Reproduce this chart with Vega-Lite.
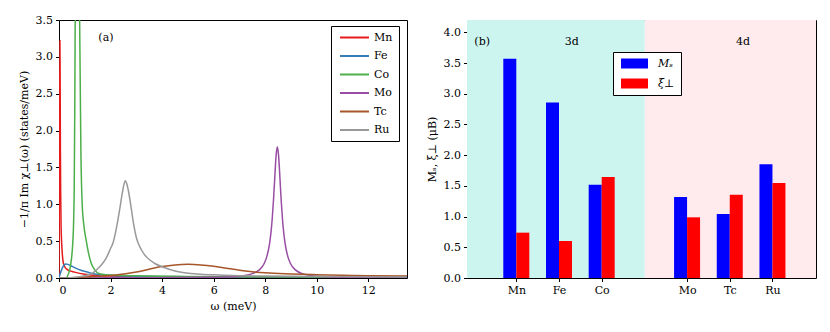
{
  "$schema": "https://vega.github.io/schema/vega-lite/v6.json",
  "padding": {"left": 17, "top": 13, "right": 0, "bottom": 0},
  "spacing": 17,
  "resolve": {"scale": {"color": "independent"}, "legend": {"color": "independent"}},
  "config": {
    "font": "DejaVu Serif",
    "view": {"stroke": "black", "strokeWidth": 1},
    "axis": {
      "grid": false, "domain": false, "tickColor": "black", "tickSize": 3.5, "labelOverlap": false,
      "labelFont": "DejaVu Serif", "labelFontSize": 11, "labelColor": "black", "labelPadding": 3,
      "titleFont": "DejaVu Serif", "titleFontSize": 11, "titleFontWeight": "normal", "titleColor": "black", "zindex": 1
    },
    "legend": {
      "labelFont": "DejaVu Serif", "labelFontSize": 11, "labelColor": "black",
      "strokeColor": "black", "fillColor": "white", "cornerRadius": 0
    }
  },
  "datasets": {
    "chi": [
      {"s":"Mn","w":0,"v":0},{"s":"Mn","w":0.02,"v":1.8},{"s":"Mn","w":0.035,"v":3.22},{"s":"Mn","w":0.045,"v":2.6},{"s":"Mn","w":0.055,"v":1.7},{"s":"Mn","w":0.065,"v":1.15},{"s":"Mn","w":0.08,"v":0.72},{"s":"Mn","w":0.1,"v":0.5},{"s":"Mn","w":0.13,"v":0.32},{"s":"Mn","w":0.16,"v":0.22},{"s":"Mn","w":0.2,"v":0.17},{"s":"Mn","w":0.3,"v":0.12},{"s":"Mn","w":0.4,"v":0.1},{"s":"Mn","w":0.6,"v":0.08},{"s":"Mn","w":1.0,"v":0.05},{"s":"Mn","w":1.5,"v":0.032},{"s":"Mn","w":2,"v":0.026},{"s":"Mn","w":3,"v":0.02},{"s":"Mn","w":4,"v":0.016},{"s":"Mn","w":6,"v":0.012},{"s":"Mn","w":9,"v":0.009},{"s":"Mn","w":13.5,"v":0.007},
      {"s":"Fe","w":0,"v":0},{"s":"Fe","w":0.05,"v":0.06},{"s":"Fe","w":0.1,"v":0.11},{"s":"Fe","w":0.15,"v":0.15},{"s":"Fe","w":0.2,"v":0.175},{"s":"Fe","w":0.26,"v":0.19},{"s":"Fe","w":0.35,"v":0.185},{"s":"Fe","w":0.5,"v":0.16},{"s":"Fe","w":0.67,"v":0.13},{"s":"Fe","w":0.85,"v":0.105},{"s":"Fe","w":1.06,"v":0.085},{"s":"Fe","w":1.3,"v":0.06},{"s":"Fe","w":1.58,"v":0.045},{"s":"Fe","w":2,"v":0.035},{"s":"Fe","w":3,"v":0.025},{"s":"Fe","w":4,"v":0.02},{"s":"Fe","w":6,"v":0.015},{"s":"Fe","w":9,"v":0.012},{"s":"Fe","w":13.5,"v":0.01},
      {"s":"Co","w":0,"v":0},{"s":"Co","w":0.28,"v":0.003},{"s":"Co","w":0.35,"v":0.04},{"s":"Co","w":0.42,"v":0.12},{"s":"Co","w":0.48,"v":0.25},{"s":"Co","w":0.53,"v":0.45},{"s":"Co","w":0.57,"v":0.8},{"s":"Co","w":0.59,"v":1.2},{"s":"Co","w":0.61,"v":2.2},{"s":"Co","w":0.63,"v":3.6},{"s":"Co","w":0.67,"v":6.5},{"s":"Co","w":0.71,"v":8},{"s":"Co","w":0.76,"v":6},{"s":"Co","w":0.8,"v":3.5},{"s":"Co","w":0.85,"v":1.7},{"s":"Co","w":0.9,"v":1.0},{"s":"Co","w":0.97,"v":0.7},{"s":"Co","w":1.06,"v":0.5},{"s":"Co","w":1.15,"v":0.33},{"s":"Co","w":1.25,"v":0.2},{"s":"Co","w":1.35,"v":0.13},{"s":"Co","w":1.5,"v":0.07},{"s":"Co","w":1.7,"v":0.05},{"s":"Co","w":2,"v":0.04},{"s":"Co","w":3,"v":0.03},{"s":"Co","w":5,"v":0.022},{"s":"Co","w":8,"v":0.016},{"s":"Co","w":13.5,"v":0.012},
      {"s":"Mo","w":0,"v":0},{"s":"Mo","w":2,"v":0.003},{"s":"Mo","w":4,"v":0.005},{"s":"Mo","w":6,"v":0.01},{"s":"Mo","w":7,"v":0.025},{"s":"Mo","w":7.47,"v":0.056},{"s":"Mo","w":7.77,"v":0.11},{"s":"Mo","w":7.97,"v":0.204},{"s":"Mo","w":8.07,"v":0.3},{"s":"Mo","w":8.17,"v":0.471},{"s":"Mo","w":8.22,"v":0.608},{"s":"Mo","w":8.27,"v":0.797},{"s":"Mo","w":8.32,"v":1.051},{"s":"Mo","w":8.37,"v":1.36},{"s":"Mo","w":8.42,"v":1.653},{"s":"Mo","w":8.47,"v":1.78},{"s":"Mo","w":8.52,"v":1.653},{"s":"Mo","w":8.57,"v":1.36},{"s":"Mo","w":8.62,"v":1.051},{"s":"Mo","w":8.67,"v":0.797},{"s":"Mo","w":8.72,"v":0.608},{"s":"Mo","w":8.77,"v":0.471},{"s":"Mo","w":8.87,"v":0.3},{"s":"Mo","w":8.97,"v":0.204},{"s":"Mo","w":9.17,"v":0.11},{"s":"Mo","w":9.47,"v":0.056},{"s":"Mo","w":9.97,"v":0.025},{"s":"Mo","w":10.5,"v":0.015},{"s":"Mo","w":11.5,"v":0.008},{"s":"Mo","w":13.5,"v":0.004},
      {"s":"Tc","w":0,"v":0},{"s":"Tc","w":0.5,"v":0.005},{"s":"Tc","w":1,"v":0.015},{"s":"Tc","w":1.5,"v":0.025},{"s":"Tc","w":2,"v":0.035},{"s":"Tc","w":2.5,"v":0.055},{"s":"Tc","w":3,"v":0.08},{"s":"Tc","w":3.5,"v":0.12},{"s":"Tc","w":4,"v":0.155},{"s":"Tc","w":4.5,"v":0.177},{"s":"Tc","w":5,"v":0.185},{"s":"Tc","w":5.5,"v":0.178},{"s":"Tc","w":6,"v":0.16},{"s":"Tc","w":6.5,"v":0.132},{"s":"Tc","w":7,"v":0.105},{"s":"Tc","w":7.5,"v":0.085},{"s":"Tc","w":8,"v":0.07},{"s":"Tc","w":9,"v":0.055},{"s":"Tc","w":10,"v":0.045},{"s":"Tc","w":11,"v":0.038},{"s":"Tc","w":12,"v":0.032},{"s":"Tc","w":13.5,"v":0.026},
      {"s":"Ru","w":0,"v":0},{"s":"Ru","w":0.5,"v":0.005},{"s":"Ru","w":1.0,"v":0.03},{"s":"Ru","w":1.3,"v":0.065},{"s":"Ru","w":1.45,"v":0.11},{"s":"Ru","w":1.65,"v":0.18},{"s":"Ru","w":1.83,"v":0.27},{"s":"Ru","w":2.0,"v":0.4},{"s":"Ru","w":2.09,"v":0.47},{"s":"Ru","w":2.2,"v":0.63},{"s":"Ru","w":2.35,"v":0.92},{"s":"Ru","w":2.45,"v":1.14},{"s":"Ru","w":2.52,"v":1.27},{"s":"Ru","w":2.57,"v":1.32},{"s":"Ru","w":2.62,"v":1.29},{"s":"Ru","w":2.7,"v":1.17},{"s":"Ru","w":2.8,"v":0.95},{"s":"Ru","w":2.9,"v":0.72},{"s":"Ru","w":3.0,"v":0.55},{"s":"Ru","w":3.2,"v":0.38},{"s":"Ru","w":3.38,"v":0.29},{"s":"Ru","w":3.7,"v":0.2},{"s":"Ru","w":4.03,"v":0.15},{"s":"Ru","w":4.5,"v":0.095},{"s":"Ru","w":4.93,"v":0.068},{"s":"Ru","w":5.5,"v":0.052},{"s":"Ru","w":6,"v":0.043},{"s":"Ru","w":7,"v":0.032},{"s":"Ru","w":8,"v":0.026},{"s":"Ru","w":10,"v":0.02},{"s":"Ru","w":13.5,"v":0.014}
    ],
    "mag": [
      {"el":"Mn","pos":0,"Ms":3.571,"xi":0.738},
      {"el":"Fe","pos":1,"Ms":2.855,"xi":0.602},
      {"el":"Co","pos":2,"Ms":1.52,"xi":1.644},
      {"el":"Mo","pos":4,"Ms":1.319,"xi":0.988},
      {"el":"Tc","pos":5,"Ms":1.042,"xi":1.357},
      {"el":"Ru","pos":6,"Ms":1.851,"xi":1.547}
    ],
    "shells": [
      {"shell":"3d","start":-1.155,"end":3.01,"lx":1.3},
      {"shell":"4d","start":3.01,"end":7.02,"lx":5.31}
    ]
  },
  "hconcat": [
    {
      "width": 348, "height": 258,
      "layer": [
        {
          "data": {"name": "chi"},
          "mark": {"type": "line", "strokeWidth": 1.5, "interpolate": "monotone", "clip": true},
          "encoding": {
            "x": {"field": "w", "type": "quantitative", "scale": {"domain": [0, 13.5], "nice": false},
                  "axis": {"values": [0,2,4,6,8,10,12], "title": "ω (meV)", "titlePadding": 5}},
            "y": {"field": "v", "type": "quantitative", "scale": {"domain": [0, 3.5], "nice": false},
                  "axis": {"values": [0,0.5,1,1.5,2,2.5,3,3.5], "labelOverlap": false, "tickCount": 8, "format": ".1f", "title": "−1/π Im χ⊥(ω) (states/meV)", "titlePadding": 6}},
            "color": {"field": "s", "type": "nominal",
                      "scale": {"domain": ["Mn","Fe","Co","Mo","Tc","Ru"], "range": ["#e41a1c","#377eb8","#4daf4a","#984ea3","#a65628","#999999"]},
                      "legend": {"title": null, "orient": "none", "legendX": 272, "legendY": 6, "symbolType": "M-5.8,0H5.8", "symbolSize": 25, "symbolStrokeWidth": 2, "symbolOffset": 12, "labelOffset": 14, "rowPadding": 6.5, "padding": 6}},
            "detail": {"field": "s"}
          }
        },
        {
          "data": {"values": [{"t":"(a)","x":1.82,"y":3.26}]},
          "mark": {"type": "text", "fontSize": 11, "color": "black"},
          "encoding": {"x": {"field": "x", "type": "quantitative"}, "y": {"field": "y", "type": "quantitative"}, "text": {"field": "t"}}
        }
      ]
    },
    {
      "width": 349, "height": 258,
      "layer": [
        {
          "data": {"name": "shells"},
          "mark": {"type": "rect"},
          "encoding": {
            "x": {"field": "start", "type": "quantitative", "scale": {"domain": [-1.155, 7.02], "nice": false, "zero": false, "padding": 0},
                  "axis": {"values": [0,1,2,4,5,6], "labelExpr": "['Mn','Fe','Co','','Mo','Tc','Ru'][datum.value]", "title": null}},
            "x2": {"field": "end"},
            "color": {"condition": {"test": "datum.shell === '3d'", "value": "#cdf5f0"}, "value": "#ffebee"}
          }
        },
        {
          "data": {"name": "mag"},
          "mark": {"type": "bar", "width": 13, "xOffset": -6.5, "orient": "vertical"},
          "encoding": {
            "x": {"field": "pos", "type": "quantitative"},
            "y": {"field": "Ms", "type": "quantitative", "scale": {"domain": [0, 4.2], "nice": false},
                  "axis": {"values": [0,0.5,1,1.5,2,2.5,3,3.5,4], "labelOverlap": false, "tickCount": 9, "format": ".1f", "title": "Mₛ, ξ⊥ (μB)", "titlePadding": 6}},
            "color": {"datum": "Mₛ", "type": "nominal",
                      "scale": {"domain": ["Mₛ","ξ⊥"], "range": ["#0000ff","#ff0000"]},
                      "legend": {"title": null, "orient": "none", "legendX": 146, "legendY": 32, "symbolType": "M-2.7,-1H2.7V1H-2.7Z", "symbolSize": 100, "symbolStrokeWidth": 0, "symbolOffset": 10, "labelOffset": 18, "rowPadding": 8, "padding": 6, "labelFontStyle": "italic"}}
          }
        },
        {
          "data": {"name": "mag"},
          "mark": {"type": "bar", "width": 13, "xOffset": 6.5, "orient": "vertical"},
          "encoding": {
            "x": {"field": "pos", "type": "quantitative"},
            "y": {"field": "xi", "type": "quantitative"},
            "color": {"datum": "ξ⊥", "type": "nominal"}
          }
        },
        {
          "data": {"name": "shells"},
          "mark": {"type": "text", "fontSize": 11, "color": "black"},
          "encoding": {"x": {"field": "lx", "type": "quantitative"}, "y": {"datum": 3.85}, "text": {"field": "shell"}}
        },
        {
          "data": {"values": [{"t":"(b)","x":-0.8,"y":3.85}]},
          "mark": {"type": "text", "fontSize": 11, "color": "black"},
          "encoding": {"x": {"field": "x", "type": "quantitative"}, "y": {"field": "y", "type": "quantitative"}, "text": {"field": "t"}}
        }
      ]
    }
  ]
}
